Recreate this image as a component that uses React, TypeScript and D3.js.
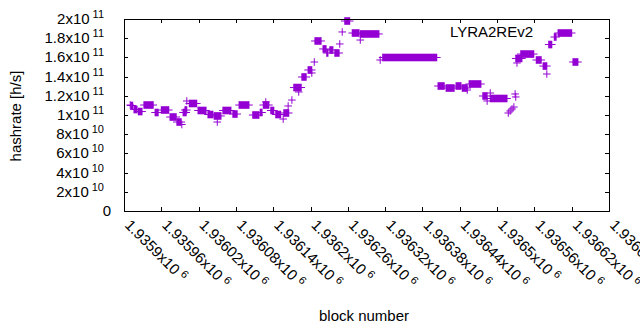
import React from "react";
import * as d3 from "d3";

// Runs of consecutive blocks sharing the same hashrate
const blockStart = [
  1935910, 1935911, 1935916, 1935923, 1935932, 1935950, 1935960, 1935974, 1935985, 1935993,
  1935995, 1935998, 1936001, 1936005, 1936019, 1936035, 1936045, 1936050, 1936059, 1936075,
  1936085, 1936107, 1936119, 1936124, 1936128, 1936136, 1936144, 1936156, 1936157, 1936164,
  1936170, 1936173, 1936181, 1936186, 1936196, 1936202, 1936206, 1936207, 1936220, 1936226,
  1936231, 1936239, 1936247, 1936251, 1936255, 1936267, 1936280, 1936280, 1936312, 1936316,
  1936405, 1936418, 1936434, 1936444, 1936452, 1936455, 1936477, 1936484, 1936489, 1936489,
  1936518, 1936521, 1936524, 1936527, 1936529, 1936530, 1936530, 1936532, 1936538, 1936563,
  1936574, 1936580, 1936583, 1936592, 1936598, 1936622,
];
const blockEnd = [
  1935910, 1935914, 1935921, 1935929, 1935947, 1935955, 1935972, 1935984, 1935992, 1935993,
  1936000, 1936001, 1936001, 1936017, 1936032, 1936043, 1936056, 1936050, 1936072, 1936082,
  1936101, 1936117, 1936122, 1936133, 1936128, 1936141, 1936152, 1936156, 1936165, 1936164,
  1936170, 1936185, 1936181, 1936193, 1936202, 1936202, 1936206, 1936217, 1936225, 1936228,
  1936236, 1936246, 1936247, 1936251, 1936263, 1936278, 1936310, 1936280, 1936312, 1936403,
  1936415, 1936431, 1936442, 1936452, 1936452, 1936474, 1936484, 1936484, 1936489, 1936516,
  1936518, 1936521, 1936524, 1936527, 1936529, 1936530, 1936540, 1936532, 1936559, 1936571,
  1936580, 1936580, 1936588, 1936595, 1936620, 1936630,
];
const hashrate = [
  1.104e11, 1.099e11, 1.057e11, 1.036e11, 1.104e11, 1.026e11, 1.052e11, 0.979e11, 0.927e11, 0.901e11,
  1.026e11, 1.052e11, 1.146e11, 1.12e11, 1.047e11, 1.005e11, 0.99e11, 0.927e11, 1.047e11, 1.01e11,
  1.104e11, 1.0e11, 1.026e11, 1.104e11, 1.135e11, 1.047e11, 1.005e11, 0.958e11, 1.021e11, 1.094e11,
  1.156e11, 1.286e11, 1.24e11, 1.396e11, 1.469e11, 1.438e11, 1.552e11, 1.771e11, 1.688e11, 1.646e11,
  1.677e11, 1.646e11, 1.74e11, 1.865e11, 1.979e11, 1.854e11, 1.844e11, 1.781e11, 1.573e11, 1.599e11,
  1.302e11, 1.281e11, 1.302e11, 1.281e11, 1.26e11, 1.323e11, 1.198e11, 1.146e11, 1.229e11, 1.172e11,
  1.021e11, 1.042e11, 1.063e11, 1.083e11, 1.219e11, 1.188e11, 1.589e11, 1.542e11, 1.635e11, 1.573e11,
  1.51e11, 1.427e11, 1.734e11, 1.8125e11, 1.854e11, 1.552e11,
];

const xTicks = [
  1935900, 1935960, 1936020, 1936080, 1936140, 1936200, 1936260, 1936320, 1936380, 1936440,
  1936500, 1936560, 1936620, 1936680,
];
const yTicks = [0, 2e10, 4e10, 6e10, 8e10, 1e11, 1.2e11, 1.4e11, 1.6e11, 1.8e11, 2e11];
const seriesName = "LYRA2REv2";
const xLabel = "block number";
const yLabel = "hashrate [h/s]";

const W = 640, H = 330;
const L = 124, R = 609, T = 19, B = 211;
const COLOR = "#9400d3";
const FONT = "'Liberation Sans', Arial, sans-serif";

function splitSci(v: number): [string, string] | null {
  if (v === 0) return null;
  const e = Math.floor(Math.log10(Math.abs(v)) + 1e-9);
  const m = +(v / Math.pow(10, e)).toPrecision(6);
  return [String(m), String(e)];
}

export default function App() {
  const x = d3.scaleLinear().domain([xTicks[0], xTicks[xTicks.length - 1]]).range([L, R]);
  const y = d3.scaleLinear().domain([0, 2e11]).range([B, T]);
  const tl = 4;
  const hs = 3.8; // half size of the "+" point
  const sw = 1;

  const marks = blockStart.map((s, i) => {
    const x0 = x(s), x1 = x(blockEnd[i]), yy = y(hashrate[i]);
    return (
      <g key={i} fill={COLOR}>
        <rect x={x0 - sw / 2} y={yy - hs} width={x1 - x0 + sw} height={hs * 2} />
        <rect x={x0 - hs} y={yy - sw / 2} width={x1 - x0 + hs * 2} height={sw} />
      </g>
    );
  });

  return (
    <svg width={W} height={H} style={{ position: "absolute", left: 0, top: 0, background: "#fff" }}
      fontFamily={FONT}>
      <rect x={0} y={0} width={W} height={H} fill="#fff" />
      {/* ticks */}
      <g stroke="#000" strokeWidth={1}>
        {yTicks.map((t, i) => {
          const yy = Math.round(y(t)) + 0.5;
          return (
            <g key={"yt" + i}>
              <line x1={L} x2={L + tl} y1={yy} y2={yy} />
              <line x1={R} x2={R - tl} y1={yy} y2={yy} />
            </g>
          );
        })}
        {xTicks.map((t, i) => {
          const xx = Math.round(x(t)) + 0.5;
          return (
            <g key={"xt" + i}>
              <line x1={xx} x2={xx} y1={B} y2={B - tl} />
              <line x1={xx} x2={xx} y1={T} y2={T + tl} />
            </g>
          );
        })}
      </g>
      {marks}
      <rect x={L + 0.5} y={T + 0.5} width={R - L} height={B - T} fill="none" stroke="#000" strokeWidth={1} />
      {/* y tick labels */}
      {yTicks.map((t, i) => {
        const p = splitSci(t);
        const yy = y(t) + 5;
        if (!p) return <text key={"yl" + i} x={111} y={yy} fontSize={15} textAnchor="end">0</text>;
        return (
          <text key={"yl" + i} x={104} y={yy} fontSize={15} textAnchor="end">
            {p[0] + "x10"}
            <tspan dx={3} dy={-6} fontSize={11}>{p[1]}</tspan>
          </text>
        );
      })}
      {/* x tick labels */}
      {xTicks.map((t, i) => {
        const p = splitSci(t)!;
        const xx = x(t);
        return (
          <text key={"xl" + i} transform={`translate(${xx},${226}) rotate(45)`} fontSize={15}>
            {p[0] + "x10"}
            <tspan dx={4} dy={-5} fontSize={11}>{p[1]}</tspan>
          </text>
        );
      })}
      <text transform={`translate(21,116) rotate(-90)`} fontSize={15} textAnchor="middle">{yLabel}</text>
      <text x={364} y={321} fontSize={15} textAnchor="middle">{xLabel}</text>
      <text x={533} y={37} fontSize={15} textAnchor="end">{seriesName}</text>
    </svg>
  );
}
